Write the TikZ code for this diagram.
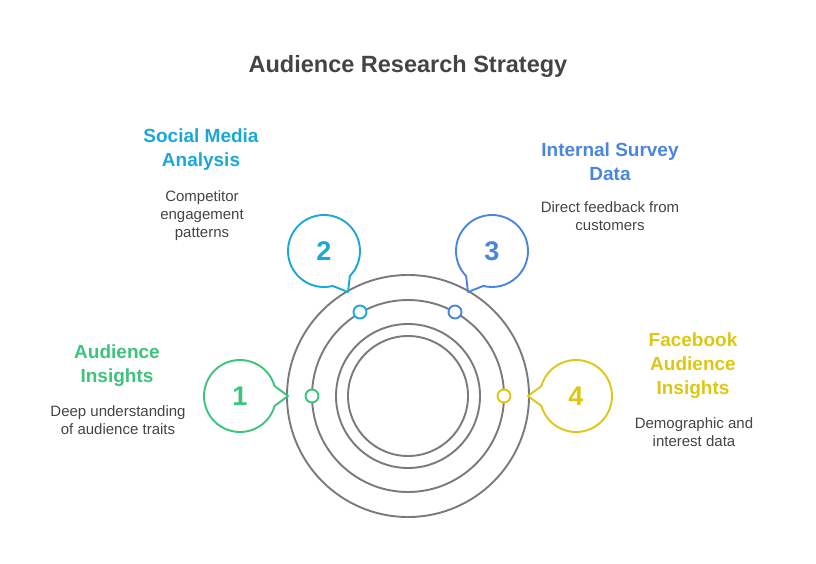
\documentclass[tikz,border=0pt]{standalone}
\usetikzlibrary{calc}
\usepackage{fontspec}
\setmainfont{Liberation Sans}
\definecolor{cg}{HTML}{3CC47C}
\definecolor{cc}{HTML}{1BA8D8}
\definecolor{cb}{HTML}{4A86E0}
\definecolor{cy}{HTML}{DEC614}
\definecolor{gr}{HTML}{7A7A7A}
\definecolor{tx}{HTML}{444444}
\begin{document}
\begin{tikzpicture}[x=1pt,y=-1pt,
  ring/.style={draw=gr,line width=1.9pt},
  dot/.style={circle,draw=#1,fill=white,line width=1.9pt,minimum size=13pt,inner sep=0pt},
  num/.style={text=#1,font=\fontsize{27}{27}\selectfont\bfseries},
  ttl/.style={text=#1,font=\fontsize{19}{24}\selectfont\bfseries,align=center},
  desc/.style={text=tx,font=\fontsize{15}{18}\selectfont,align=center}]
\useasboundingbox (0,0) rectangle (816,564);
\node[text=tx,font=\fontsize{23.5}{23.5}\selectfont\bfseries] (title) at (408,66) {Audience Research Strategy};
\coordinate (c) at (408,396);
\draw[ring] (c) circle[radius=121];
\draw[ring] (c) circle[radius=96];
\draw[ring] (c) circle[radius=72];
\draw[ring] (c) circle[radius=60];
\node[dot=cg] (d1) at (312,396) {};
\node[dot=cy] (d4) at (504,396) {};
\node[dot=cc] (d2) at (360,312) {};
\node[dot=cb] (d3) at (455,312) {};
\foreach \cx/\cy/\th/\tip/\col/\n in {240/396/0/{(288,396)}/cg/1, 576/396/180/{(528,396)}/cy/4, 324/251/60/{(348,292)}/cc/2, 492/251/120/{(468,292)}/cb/3}{
  \draw[draw=\col,line width=1.9pt,fill=white,line join=round]
    ($(\cx,\cy)+(\th+16:36)$) arc[start angle=\th+16,end angle=\th+344,radius=36] -- \tip -- cycle;
  \node[num=\col] at (\cx,\cy) {\n};
}
\node[ttl=cc] (t2) at (201,150) {Social Media\\Analysis};
\node[desc] (s2) at (202,216) {Competitor\\engagement\\patterns};
\node[ttl=cb] (t3) at (610,162) {Internal Survey\\Data};
\node[desc] (s3) at (610,216) {Direct feedback from\\customers};
\node[ttl=cg] (t1) at (117,366) {Audience\\Insights};
\node[desc] (s1) at (118,420) {Deep understanding\\of audience traits};
\node[ttl=cy] (t4) at (693,366) {Facebook\\Audience\\Insights};
\node[desc] (s4) at (694,432) {Demographic and\\interest data};
\end{tikzpicture}
\end{document}
